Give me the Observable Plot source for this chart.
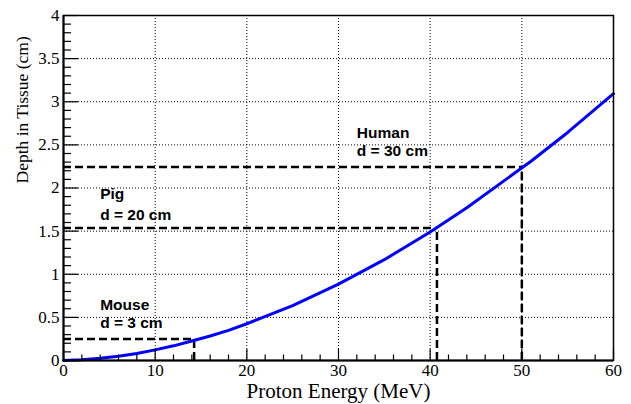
<!DOCTYPE html>
<html>
<head>
<meta charset="utf-8">
<script src="https://cdn.jsdelivr.net/npm/d3@7"></script>
<script src="https://cdn.jsdelivr.net/npm/@observablehq/plot@0.6"></script>
<style>
  html, body { margin: 0; padding: 0; background: #fff; }
  #chart svg { display: block; }
</style>
</head>
<body>
<div id="chart"></div>
<script>
// Range-energy curve
const energy = [0, 2, 4, 6, 8, 10, 12, 14, 16, 18, 20, 25, 30, 35, 40, 44, 51, 55, 60];
const depth  = [0, 0.0075, 0.025, 0.049, 0.081, 0.123, 0.170, 0.226, 0.284, 0.349, 0.426, 0.637, 0.885, 1.169, 1.489, 1.77, 2.31, 2.644, 3.093];

// Reference targets
const targetNames  = ["Mouse", "Pig", "Human"];
const targetEnergy = [14.25, 40.74, 50.0];
const targetDepth  = [0.249, 1.537, 2.243];

// Annotation lines
const annText = ["Mouse", "d = 3 cm", "Pig", "d = 20 cm", "Human", "d = 30 cm"];
const annX    = [4, 4, 4, 4, 32, 32];
const annY    = [0.584, 0.382, 1.869, 1.626, 2.583, 2.367];

// Ticks
const majorX = [0, 10, 20, 30, 40, 50, 60];
const minorX = d3.range(0, 61, 2).filter(v => v % 10 !== 0);
const gridXv = [10, 20, 30, 40, 50];
const majorY = [0, 0.5, 1, 1.5, 2, 2.5, 3, 3.5, 4];
const minorY = d3.range(0, 41, 1).filter(v => v % 5 !== 0).map(v => v / 10);
const gridYv = [0.5, 1, 1.5, 2, 2.5, 3, 3.5];

const curve = energy.map((e, i) => ({e, d: depth[i]}));
const targets = targetNames.map((n, i) => ({n, e: targetEnergy[i], d: targetDepth[i]}));
const ann = annText.map((t, i) => ({t, x: annX[i], y: annY[i]}));

const serif = "'Liberation Serif', 'Times New Roman', serif";
const sans = "'Liberation Sans', Arial, Helvetica, sans-serif";

const chart = Plot.plot({
  width: 631,
  height: 404,
  marginLeft: 63,
  marginRight: 18,
  marginTop: 15,
  marginBottom: 44,
  style: {fontFamily: serif, fontSize: "17px", background: "#fff", color: "#000"},
  x: {domain: [0, 60]},
  y: {domain: [0, 4]},
  marks: [
    Plot.gridX(gridXv, {stroke: "#000", strokeOpacity: 1, strokeWidth: 1, strokeDasharray: "1,2"}),
    Plot.gridY(gridYv, {stroke: "#000", strokeOpacity: 1, strokeWidth: 1, strokeDasharray: "1,2"}),
    Plot.ruleY(targets, {y: "d", x1: 0, x2: "e", stroke: "#000", strokeWidth: 2.5, strokeDasharray: "8,4"}),
    Plot.ruleX(targets, {x: "e", y1: 0, y2: "d", stroke: "#000", strokeWidth: 2.5, strokeDasharray: "8,4"}),
    Plot.line(curve, {x: "e", y: "d", stroke: "#0000ff", strokeWidth: 3}),
    Plot.text(ann, {x: "x", y: "y", text: "t", textAnchor: "start", lineAnchor: "bottom",
      fontFamily: sans, fontWeight: "bold", fontSize: 15.5, fill: "#000"}),
    // inward ticks
    Plot.axisX(majorX, {tickSize: -11, tickFormat: () => "", strokeWidth: 1.2}),
    Plot.axisX(minorX, {tickSize: -5.5, tickFormat: () => "", strokeWidth: 1.2}),
    Plot.axisY(majorY, {tickSize: -15, tickFormat: () => "", strokeWidth: 1.2}),
    Plot.axisY(minorY, {tickSize: -8, tickFormat: () => "", strokeWidth: 1.2}),
    // tick labels
    Plot.axisX(majorX, {tickSize: 0, tickPadding: 3, fontSize: 17, tickFormat: d => String(d), label: null}),
    Plot.axisY(majorY, {tickSize: 0, tickPadding: 4, fontSize: 17, tickFormat: d => String(d), label: null}),
    Plot.frame({stroke: "#000", strokeWidth: 1.5}),
    Plot.ruleX([0], {stroke: "#000", strokeWidth: 2}),
    Plot.ruleY([0], {stroke: "#000", strokeWidth: 2}),
    // axis titles
    Plot.text(["Proton Energy (MeV)"], {frameAnchor: "bottom", dy: 37.5, lineAnchor: "bottom",
      fontSize: 21, fontFamily: serif, fill: "#000"}),
    Plot.text(["Depth in Tissue (cm)"], {frameAnchor: "left", rotate: -90, dx: -41, dy: -4.5,
      lineAnchor: "middle", fontSize: 17.5, fontFamily: serif, fill: "#000"})
  ]
});

document.getElementById("chart").appendChild(chart);
</script>
</body>
</html>
